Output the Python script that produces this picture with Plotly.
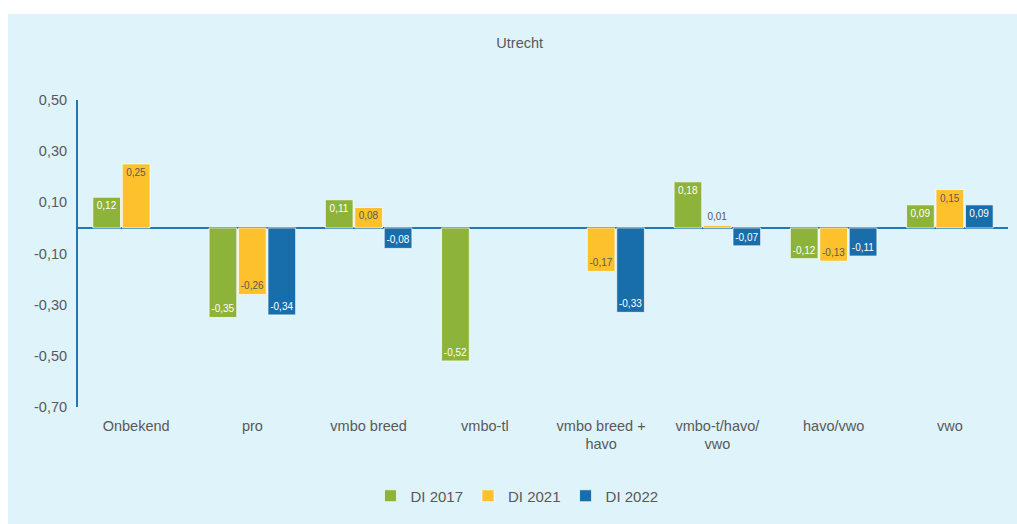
import plotly.graph_objects as go

# Categories and series values
categories = ["Onbekend", "pro", "vmbo breed", "vmbo-tl", "vmbo breed +<br>havo",
              "vmbo-t/havo/<br>vwo", "havo/vwo", "vwo"]
di_2017 = [0.12, -0.35, 0.11, -0.52, None, 0.18, -0.12, 0.09]
di_2021 = [0.25, -0.26, 0.08, None, -0.17, 0.01, -0.13, 0.15]
di_2022 = [None, -0.34, -0.08, None, -0.33, -0.07, -0.11, 0.09]

y_ticks = [-0.70, -0.50, -0.30, -0.10, 0.10, 0.30, 0.50]
y_tick_labels = ["-0,70", "-0,50", "-0,30", "-0,10", "0,10", "0,30", "0,50"]

GREEN = "#8db33b"
YELLOW = "#fcc12c"
BLUE = "#176eab"
AXIS_BLUE = "#2277b5"
PANEL = "#dff3fb"
TEXT = "#595959"
FONT = "Liberation Sans, Arial, sans-serif"


def text_positions(values):
    # Very short bars get their value printed outside the bar
    return ["outside" if v is not None and abs(v) < 0.03 else "inside" for v in values]


series = [
    ("DI 2017", di_2017, GREEN, "white"),
    ("DI 2021", di_2021, YELLOW, TEXT),
    ("DI 2022", di_2022, BLUE, "white"),
]

fig = go.Figure()
for name, values, color, label_color in series:
    fig.add_trace(go.Bar(
        name=name,
        x=categories,
        y=values,
        marker=dict(color=color, line=dict(color="rgba(255,255,255,0.7)", width=1)),
        texttemplate="%{y:.2f}",
        textposition=text_positions(values),
        textangle=0,
        insidetextanchor="end",
        insidetextfont=dict(color=label_color, size=10, family=FONT),
        outsidetextfont=dict(color=TEXT, size=10, family=FONT),
        constraintext="none",
        cliponaxis=False,
    ))

# White frame strips along the top and left edges of the light panel
frame = [
    dict(type="rect", xref="paper", yref="paper", layer="below",
         x0=-78 / 930, x1=(8 - 78) / 930, y0=-117 / 307, y1=407 / 307 * 1.01,
         fillcolor="white", line=dict(width=0)),
    dict(type="rect", xref="paper", yref="paper", layer="below",
         x0=-78 / 930, x1=(1017 - 78) / 930, y0=(407 - 14) / 307, y1=407 / 307,
         fillcolor="white", line=dict(width=0)),
]

fig.update_layout(
    width=1017,
    height=524,
    margin=dict(l=78, r=9, t=100, b=117),
    paper_bgcolor=PANEL,
    plot_bgcolor="rgba(0,0,0,0)",
    separators=",.",
    barmode="group",
    bargap=0.24,
    bargroupgap=0.06,
    font=dict(family=FONT, color=TEXT, size=14.5),
    title=dict(text="Utrecht", x=0.511, xref="container", xanchor="center",
               y=1 - 43 / 524, yref="container", yanchor="middle",
               font=dict(size=14.5, color=TEXT, family=FONT)),
    showlegend=True,
    legend=dict(orientation="h", x=0.472, xanchor="center", y=-0.29, yanchor="middle",
                font=dict(size=15, color=TEXT, family=FONT),
                bgcolor="rgba(0,0,0,0)", itemwidth=30, traceorder="normal"),
    shapes=frame,
)

fig.update_xaxes(
    showgrid=False, showline=False, ticks="", ticklabelstandoff=8,
    tickfont=dict(size=14.5, color=TEXT, family=FONT),
)
fig.update_yaxes(
    range=[-0.70, 0.50], tickvals=y_ticks, ticktext=y_tick_labels,
    showgrid=False, showline=True, linecolor=AXIS_BLUE, linewidth=2,
    zeroline=True, zerolinecolor=AXIS_BLUE, zerolinewidth=2,
    ticks="", ticklabelstandoff=6,
    tickfont=dict(size=14.5, color=TEXT, family=FONT),
)

fig.write_html("out.html")
